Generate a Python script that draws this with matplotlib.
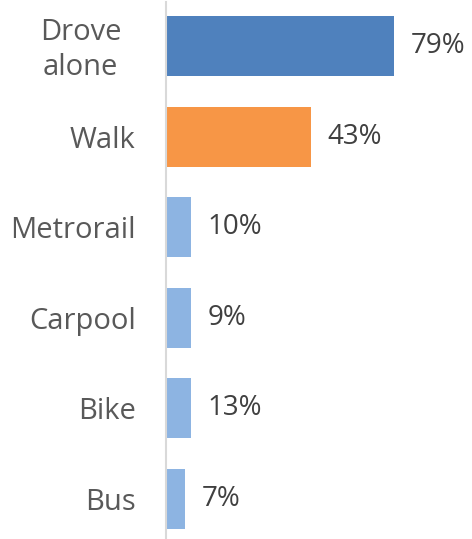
import matplotlib
matplotlib.use("Agg")
import matplotlib.pyplot as plt
from matplotlib.transforms import ScaledTranslation

# categories top to bottom, printed shares, and bar lengths as drawn
modes = ["Drove\nalone", "Walk", "Metrorail", "Carpool", "Bike", "Bus"]
share_labels = ["79%", "43%", "10%", "9%", "13%", "7%"]
bar_lengths = [79, 50.3, 8.7, 8.7, 8.7, 6.6]
bar_colors = ["#4F81BD", "#F79646", "#8DB4E2", "#8DB4E2", "#8DB4E2", "#8DB4E2"]

plt.rcParams['font.family'] = ['Open Sans', 'DejaVu Sans']

W, H = 472, 539
fig = plt.figure(figsize=(W / 100, H / 100), dpi=100)
left = 165.5 / W
top_px = 2
ax = fig.add_axes([left, 0, 1 - left, 1 - top_px / H])

ypos = list(range(len(modes)))
ax.barh(ypos, bar_lengths, height=0.663, color=bar_colors)

# pixel scale: bar centres 90.45 px apart, first at 46.3 px from top
step = 90.45
ax.set_ylim((H - 46.3) / step, (top_px - 46.3) / step)
ax.set_xlim(0, (W - 165.5) / 2.89)

for y, v, lab in zip(ypos, bar_lengths, share_labels):
    ax.annotate(lab, (v, y), xytext=(17, 0), textcoords="offset pixels",
                va="center", ha="left", fontsize=20, color="#404040")

ax.set_yticks(ypos)
ax.set_yticklabels(modes, fontsize=21, color="#595959",
                   multialignment="center", linespacing=1.3)
ax.tick_params(axis="y", length=0, pad=21.5)
# the wrapped label sits centred in the label column
first = ax.get_yticklabels()[0]
first.set_ha("center")
first.set_transform(first.get_transform()
                    + ScaledTranslation(-0.55, 0.03, fig.dpi_scale_trans))
ax.set_xticks([])
for s in ["top", "right", "bottom"]:
    ax.spines[s].set_visible(False)
ax.spines["left"].set_color("#D9D9D9")
ax.spines["left"].set_linewidth(1.5)

fig.savefig("out.png", dpi=100)
